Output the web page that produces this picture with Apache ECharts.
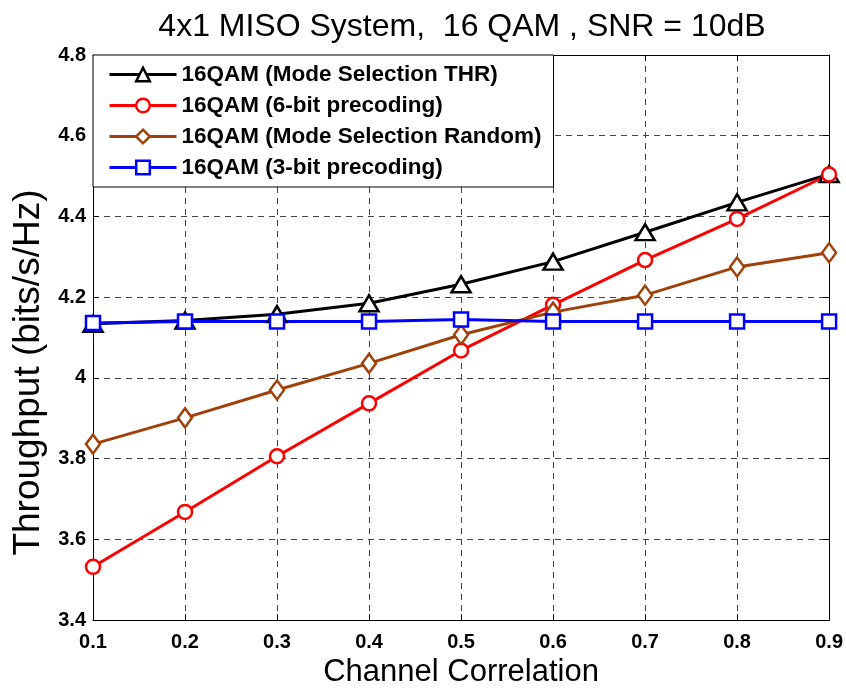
<!DOCTYPE html>
<html>
<head>
<meta charset="utf-8">
<script src="https://cdn.jsdelivr.net/npm/echarts@6/dist/echarts.min.js"></script>
<style>
  html, body { margin: 0; padding: 0; background: #fff; }
  #chart { width: 846px; height: 693px; }
</style>
</head>
<body>
<div id="chart"></div>
<script>
// channel correlation values (x axis)
var correlation = [0.1, 0.2, 0.3, 0.4, 0.5, 0.6, 0.7, 0.8, 0.9];

// throughput (bits/s/Hz)
var modeSelThr    = [4.134, 4.142, 4.158, 4.185, 4.232, 4.288, 4.361, 4.435, 4.505];
var precoding6    = [3.532, 3.668, 3.806, 3.937, 4.068, 4.181, 4.292, 4.394, 4.504];
var modeSelRandom = [3.836, 3.901, 3.970, 4.036, 4.107, 4.163, 4.205, 4.275, 4.310];
var precoding3    = [4.136, 4.140, 4.140, 4.140, 4.145, 4.140, 4.140, 4.140, 4.140];

var seriesNames = [
  "16QAM (Mode Selection THR)",
  "16QAM (6-bit precoding)",
  "16QAM (Mode Selection Random)",
  "16QAM (3-bit precoding)"
];

function pairs(ys) {
  return correlation.map(function (x, i) { return [x, ys[i]]; });
}

function lineSeries(name, ys, color, symbol, size) {
  return {
    name: name,
    type: "line",
    data: pairs(ys),
    symbol: symbol,
    symbolSize: size,
    showAllSymbol: true,
    lineStyle: { color: color, width: 3 },
    itemStyle: { color: "#fff", borderColor: color, borderWidth: 2.5 },
    emphasis: { disabled: true },
    animation: false
  };
}

var chart = echarts.init(document.getElementById("chart"));

var font = "Liberation Sans, Arial, Helvetica, sans-serif";
var gridLine = { show: true, lineStyle: { color: "#444", type: [6, 5], width: 1 } };

var option = {
  backgroundColor: "#fff",
  title: {
    text: "4x1 MISO System,  16 QAM , SNR = 10dB",
    left: 457,
    textAlign: "center",
    top: 6,
    textStyle: { fontFamily: font, fontWeight: "normal", fontSize: 32, color: "#000" }
  },
  legend: {
    orient: "vertical",
    left: 93,
    top: 55,
    data: seriesNames,
    itemWidth: 67,
    itemHeight: 17,
    itemGap: 8,
    padding: [8, 12, 8, 15],
    backgroundColor: "#fff",
    borderColor: "#000",
    borderWidth: 1,
    selectedMode: false,
    lineStyle: { width: 3 },
    itemStyle: { borderWidth: 2.5 },
    textStyle: { fontFamily: font, fontWeight: "bold", fontSize: 22.5, color: "#000" }
  },
  grid: { left: 93, right: 15, top: 55, bottom: 68, show: false },
  xAxis: [
    {
      type: "value",
      min: 0.1,
      max: 0.9,
      interval: 0.1,
      name: "Channel Correlation",
      nameLocation: "middle",
      nameGap: 36,
      nameTextStyle: { fontFamily: font, fontSize: 31, color: "#000" },
      axisLine: { lineStyle: { color: "#000", width: 1 } },
      axisTick: { inside: true, length: 6, lineStyle: { color: "#000" } },
      axisLabel: {
        margin: 12,
        fontFamily: font, fontWeight: "bold", fontSize: 20, color: "#000",
        formatter: function (v) { return v.toFixed(1); }
      },
      splitLine: gridLine
    },
    {
      type: "value",
      position: "top",
      min: 0.1,
      max: 0.9,
      interval: 0.1,
      axisLine: { show: true, onZero: false, lineStyle: { color: "#000", width: 1 } },
      axisTick: { inside: true, length: 6, lineStyle: { color: "#000" } },
      axisLabel: { show: false },
      splitLine: { show: false }
    }
  ],
  yAxis: [
    {
      type: "value",
      min: 3.4,
      max: 4.8,
      interval: 0.2,
      name: "Throughput (bits/s/Hz)",
      nameLocation: "middle",
      nameGap: 46,
      nameTextStyle: { fontFamily: font, fontSize: 37, color: "#000", padding: [0, 70, 0, 0] },
      axisLine: { show: true, lineStyle: { color: "#000", width: 1 } },
      axisTick: { show: true, inside: true, length: 6, lineStyle: { color: "#000" } },
      axisLabel: {
        margin: 7,
        fontFamily: font, fontWeight: "bold", fontSize: 20, color: "#000",
        formatter: function (v) { return String(Math.round(v * 10) / 10); }
      },
      splitLine: gridLine
    },
    {
      type: "value",
      position: "right",
      min: 3.4,
      max: 4.8,
      interval: 0.2,
      axisLine: { show: true, onZero: false, lineStyle: { color: "#000", width: 1 } },
      axisTick: { show: true, inside: true, length: 6, lineStyle: { color: "#000" } },
      axisLabel: { show: false },
      splitLine: { show: false }
    }
  ],
  series: [
    lineSeries(seriesNames[0], modeSelThr, "#000000", "triangle", [19, 16]),
    lineSeries(seriesNames[1], precoding6, "#ff0000", "circle", 14),
    lineSeries(seriesNames[2], modeSelRandom, "#a0400a", "diamond", [14, 19]),
    lineSeries(seriesNames[3], precoding3, "#0000ff", "rect", 14)
  ]
};

chart.setOption(option);
</script>
</body>
</html>
